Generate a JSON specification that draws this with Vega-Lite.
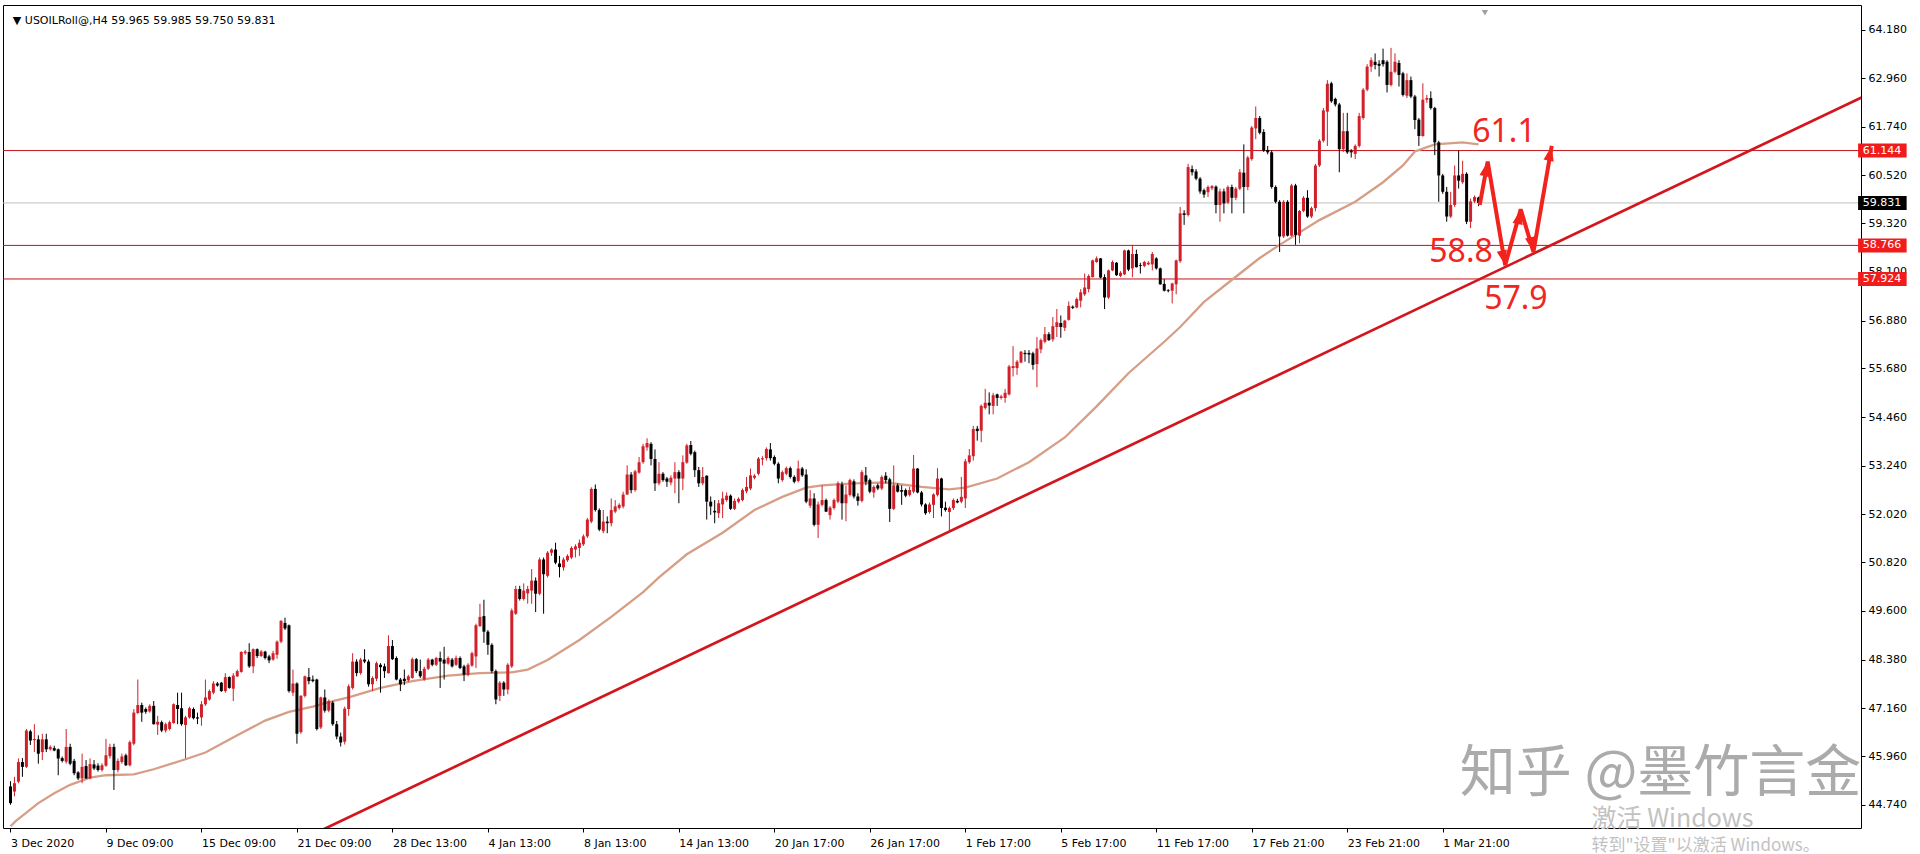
{
"$schema":"https://vega.github.io/schema/vega-lite/v6.json",
"width":1858,"height":823,
"autosize":{"type":"none"},
"padding":{"left":3,"top":5,"right":59,"bottom":26},
"background":"#ffffff",
"config":{"view":{"stroke":"#000000","strokeWidth":1,"fill":"#ffffff"},"font":"DejaVu Sans"},
"datasets":{
"candles":[
{"i":0,"o":45.20,"h":45.33,"l":44.74,"c":44.78},{"i":1,"o":45.07,"h":45.44,"l":44.95,"c":45.28},{"i":2,"o":45.32,"h":45.90,"l":45.28,"c":45.81},{"i":3,"o":45.81,"h":45.91,"l":45.44,"c":45.69},{"i":4,"o":45.69,"h":46.64,"l":45.66,"c":46.60},{"i":5,"o":46.58,"h":46.62,"l":46.24,"c":46.35},{"i":6,"o":46.36,"h":46.76,"l":46.06,"c":46.39},{"i":7,"o":46.38,"h":46.48,"l":45.77,"c":46.02},{"i":8,"o":46.06,"h":46.52,"l":45.86,"c":46.38},{"i":9,"o":46.38,"h":46.52,"l":46.06,"c":46.13},
{"i":10,"o":46.13,"h":46.23,"l":46.10,"c":46.19},{"i":11,"o":46.16,"h":46.22,"l":46.08,"c":46.10},{"i":12,"o":46.13,"h":46.15,"l":45.48,"c":45.90},{"i":13,"o":45.91,"h":45.95,"l":45.80,"c":45.84},{"i":14,"o":45.82,"h":46.64,"l":45.77,"c":46.19},{"i":15,"o":46.19,"h":46.27,"l":45.73,"c":45.77},{"i":16,"o":45.84,"h":45.89,"l":45.48,"c":45.53},{"i":17,"o":45.55,"h":45.58,"l":45.36,"c":45.40},{"i":18,"o":45.40,"h":46.02,"l":45.28,"c":45.69},{"i":19,"o":45.71,"h":45.86,"l":45.39,"c":45.40},
{"i":20,"o":45.40,"h":45.90,"l":45.38,"c":45.76},{"i":21,"o":45.75,"h":45.86,"l":45.61,"c":45.65},{"i":22,"o":45.72,"h":45.78,"l":45.57,"c":45.61},{"i":23,"o":45.61,"h":45.78,"l":45.57,"c":45.73},{"i":24,"o":45.72,"h":46.39,"l":45.69,"c":45.98},{"i":25,"o":45.96,"h":46.27,"l":45.90,"c":46.19},{"i":26,"o":46.19,"h":46.27,"l":45.11,"c":45.61},{"i":27,"o":45.61,"h":45.90,"l":45.55,"c":45.84},{"i":28,"o":45.81,"h":46.02,"l":45.77,"c":45.95},{"i":29,"o":45.98,"h":46.02,"l":45.71,"c":45.73},
{"i":30,"o":45.73,"h":46.35,"l":45.70,"c":46.31},{"i":31,"o":46.27,"h":47.14,"l":46.23,"c":47.05},{"i":32,"o":47.04,"h":47.88,"l":47.01,"c":47.24},{"i":33,"o":47.24,"h":47.30,"l":46.82,"c":47.05},{"i":34,"o":47.14,"h":47.18,"l":47.02,"c":47.07},{"i":35,"o":47.08,"h":47.26,"l":47.05,"c":47.22},{"i":36,"o":47.22,"h":47.34,"l":46.75,"c":46.76},{"i":37,"o":46.75,"h":46.97,"l":46.49,"c":46.82},{"i":38,"o":46.81,"h":46.85,"l":46.56,"c":46.60},{"i":39,"o":46.60,"h":46.80,"l":46.55,"c":46.76},
{"i":40,"o":46.64,"h":46.85,"l":46.60,"c":46.81},{"i":41,"o":46.79,"h":47.28,"l":46.77,"c":47.26},{"i":42,"o":47.24,"h":47.55,"l":46.76,"c":47.14},{"i":43,"o":47.16,"h":47.55,"l":46.72,"c":46.76},{"i":44,"o":46.74,"h":46.97,"l":45.90,"c":46.93},{"i":45,"o":46.93,"h":47.20,"l":46.90,"c":47.16},{"i":46,"o":47.14,"h":47.18,"l":46.88,"c":46.91},{"i":47,"o":46.93,"h":47.05,"l":46.76,"c":46.90},{"i":48,"o":46.93,"h":47.34,"l":46.72,"c":47.26},{"i":49,"o":47.26,"h":47.88,"l":47.22,"c":47.43},
{"i":50,"o":47.38,"h":47.63,"l":47.35,"c":47.59},{"i":51,"o":47.55,"h":47.84,"l":47.51,"c":47.78},{"i":52,"o":47.78,"h":47.82,"l":47.70,"c":47.73},{"i":53,"o":47.80,"h":47.82,"l":47.57,"c":47.59},{"i":54,"o":47.59,"h":48.04,"l":47.55,"c":47.94},{"i":55,"o":47.94,"h":47.96,"l":47.65,"c":47.67},{"i":56,"o":47.65,"h":48.04,"l":47.34,"c":47.98},{"i":57,"o":47.96,"h":48.13,"l":47.94,"c":48.09},{"i":58,"o":48.07,"h":48.59,"l":48.05,"c":48.57},{"i":59,"o":48.54,"h":48.62,"l":48.50,"c":48.58},
{"i":60,"o":48.57,"h":48.79,"l":48.17,"c":48.21},{"i":61,"o":48.21,"h":48.66,"l":48.04,"c":48.64},{"i":62,"o":48.64,"h":48.66,"l":48.42,"c":48.47},{"i":63,"o":48.47,"h":48.62,"l":48.44,"c":48.58},{"i":64,"o":48.58,"h":48.60,"l":48.38,"c":48.42},{"i":65,"o":48.46,"h":48.50,"l":48.29,"c":48.36},{"i":66,"o":48.38,"h":48.60,"l":48.35,"c":48.54},{"i":67,"o":48.50,"h":48.86,"l":48.40,"c":48.83},{"i":68,"o":48.83,"h":49.37,"l":48.79,"c":49.35},{"i":69,"o":49.30,"h":49.43,"l":49.12,"c":49.16},
{"i":70,"o":49.24,"h":49.26,"l":47.55,"c":47.59},{"i":71,"o":47.55,"h":48.13,"l":47.47,"c":47.78},{"i":72,"o":47.78,"h":47.81,"l":46.27,"c":46.52},{"i":73,"o":46.56,"h":47.49,"l":46.52,"c":47.47},{"i":74,"o":47.47,"h":47.98,"l":47.43,"c":47.96},{"i":75,"o":47.94,"h":48.17,"l":47.76,"c":47.84},{"i":76,"o":47.88,"h":47.98,"l":47.81,"c":47.84},{"i":77,"o":47.88,"h":47.90,"l":46.60,"c":46.64},{"i":78,"o":46.68,"h":47.45,"l":46.64,"c":47.43},{"i":79,"o":47.43,"h":47.63,"l":47.05,"c":47.10},
{"i":80,"o":47.10,"h":47.38,"l":47.06,"c":47.34},{"i":81,"o":47.30,"h":47.34,"l":46.72,"c":46.76},{"i":82,"o":46.76,"h":46.84,"l":46.38,"c":46.45},{"i":83,"o":46.45,"h":46.55,"l":46.20,"c":46.30},{"i":84,"o":46.32,"h":47.20,"l":46.25,"c":47.15},{"i":85,"o":47.14,"h":47.76,"l":46.97,"c":47.71},{"i":86,"o":47.67,"h":48.54,"l":47.63,"c":48.33},{"i":87,"o":48.33,"h":48.39,"l":47.96,"c":48.04},{"i":88,"o":48.04,"h":48.42,"l":48.00,"c":48.38},{"i":89,"o":48.38,"h":48.64,"l":48.29,"c":48.33},
{"i":90,"o":48.33,"h":48.38,"l":47.70,"c":47.76},{"i":91,"o":47.76,"h":47.96,"l":47.59,"c":47.92},{"i":92,"o":47.90,"h":48.33,"l":47.84,"c":48.29},{"i":93,"o":48.25,"h":48.29,"l":47.55,"c":48.19},{"i":94,"o":48.21,"h":48.28,"l":47.92,"c":48.09},{"i":95,"o":48.04,"h":48.99,"l":48.03,"c":48.72},{"i":96,"o":48.72,"h":48.87,"l":48.37,"c":48.39},{"i":97,"o":48.42,"h":48.46,"l":47.86,"c":47.88},{"i":98,"o":47.88,"h":47.92,"l":47.59,"c":47.76},{"i":99,"o":47.90,"h":48.13,"l":47.74,"c":47.84},
{"i":100,"o":47.86,"h":48.00,"l":47.82,"c":47.96},{"i":101,"o":47.92,"h":48.43,"l":47.90,"c":48.39},{"i":102,"o":48.39,"h":48.42,"l":48.04,"c":48.09},{"i":103,"o":48.09,"h":48.38,"l":47.92,"c":47.96},{"i":104,"o":47.88,"h":48.20,"l":47.85,"c":48.15},{"i":105,"o":48.15,"h":48.42,"l":48.12,"c":48.38},{"i":106,"o":48.38,"h":48.40,"l":48.21,"c":48.25},{"i":107,"o":48.25,"h":48.45,"l":48.22,"c":48.42},{"i":108,"o":48.42,"h":48.58,"l":47.67,"c":48.33},{"i":109,"o":48.38,"h":48.70,"l":47.88,"c":48.28},
{"i":110,"o":48.28,"h":48.46,"l":48.25,"c":48.42},{"i":111,"o":48.38,"h":48.42,"l":48.18,"c":48.21},{"i":112,"o":48.25,"h":48.48,"l":48.22,"c":48.42},{"i":113,"o":48.42,"h":48.46,"l":48.14,"c":48.17},{"i":114,"o":48.21,"h":48.25,"l":47.84,"c":48.00},{"i":115,"o":48.00,"h":48.29,"l":47.96,"c":48.25},{"i":116,"o":48.23,"h":48.58,"l":48.20,"c":48.54},{"i":117,"o":48.46,"h":49.28,"l":48.17,"c":49.24},{"i":118,"o":49.22,"h":49.78,"l":49.20,"c":49.45},{"i":119,"o":49.47,"h":49.88,"l":48.80,"c":49.08},
{"i":120,"o":49.08,"h":49.12,"l":48.50,"c":48.75},{"i":121,"o":48.75,"h":48.79,"l":48.04,"c":48.09},{"i":122,"o":48.09,"h":48.13,"l":47.26,"c":47.38},{"i":123,"o":47.47,"h":47.84,"l":47.34,"c":47.80},{"i":124,"o":47.80,"h":47.84,"l":47.47,"c":47.63},{"i":125,"o":47.63,"h":48.29,"l":47.51,"c":48.25},{"i":126,"o":48.21,"h":49.66,"l":48.17,"c":49.61},{"i":127,"o":49.53,"h":50.23,"l":49.50,"c":50.15},{"i":128,"o":50.15,"h":50.23,"l":49.86,"c":49.90},{"i":129,"o":49.90,"h":50.29,"l":49.86,"c":50.11},
{"i":130,"o":50.04,"h":50.23,"l":49.78,"c":50.15},{"i":131,"o":50.11,"h":50.65,"l":49.78,"c":50.36},{"i":132,"o":50.36,"h":50.44,"l":49.57,"c":50.03},{"i":133,"o":50.03,"h":50.94,"l":49.99,"c":50.89},{"i":134,"o":50.89,"h":50.94,"l":49.53,"c":50.52},{"i":135,"o":50.48,"h":51.10,"l":50.44,"c":51.06},{"i":136,"o":51.06,"h":51.17,"l":50.98,"c":51.14},{"i":137,"o":51.14,"h":51.31,"l":50.77,"c":50.81},{"i":138,"o":50.79,"h":50.98,"l":50.44,"c":50.70},{"i":139,"o":50.69,"h":50.94,"l":50.61,"c":50.89},
{"i":140,"o":50.87,"h":51.02,"l":50.83,"c":50.98},{"i":141,"o":50.94,"h":51.22,"l":50.90,"c":51.18},{"i":142,"o":51.14,"h":51.27,"l":50.94,"c":51.22},{"i":143,"o":51.18,"h":51.39,"l":50.98,"c":51.31},{"i":144,"o":51.27,"h":51.52,"l":51.23,"c":51.47},{"i":145,"o":51.47,"h":51.93,"l":51.43,"c":51.89},{"i":146,"o":51.84,"h":52.70,"l":51.80,"c":52.66},{"i":147,"o":52.66,"h":52.77,"l":52.09,"c":52.13},{"i":148,"o":52.13,"h":52.17,"l":51.60,"c":51.64},{"i":149,"o":51.60,"h":52.13,"l":51.55,"c":51.84},
{"i":150,"o":51.84,"h":51.97,"l":51.55,"c":51.80},{"i":151,"o":51.80,"h":52.42,"l":51.72,"c":52.13},{"i":152,"o":52.09,"h":52.38,"l":52.05,"c":52.22},{"i":153,"o":52.18,"h":52.30,"l":52.14,"c":52.26},{"i":154,"o":52.22,"h":52.59,"l":52.17,"c":52.52},{"i":155,"o":52.52,"h":53.25,"l":52.51,"c":53.02},{"i":156,"o":53.02,"h":53.08,"l":52.55,"c":52.63},{"i":157,"o":52.63,"h":53.14,"l":52.59,"c":53.10},{"i":158,"o":53.07,"h":53.46,"l":53.04,"c":53.33},{"i":159,"o":53.33,"h":53.79,"l":53.29,"c":53.73},
{"i":160,"o":53.70,"h":53.93,"l":53.62,"c":53.81},{"i":161,"o":53.79,"h":53.83,"l":53.25,"c":53.41},{"i":162,"o":53.41,"h":53.65,"l":52.61,"c":52.80},{"i":163,"o":52.80,"h":53.33,"l":52.75,"c":53.04},{"i":164,"o":53.04,"h":53.08,"l":52.84,"c":52.88},{"i":165,"o":52.92,"h":52.96,"l":52.71,"c":52.84},{"i":166,"o":52.82,"h":53.00,"l":52.75,"c":52.94},{"i":167,"o":52.92,"h":53.33,"l":52.55,"c":53.08},{"i":168,"o":53.08,"h":53.13,"l":52.30,"c":52.92},{"i":169,"o":52.92,"h":53.50,"l":52.63,"c":53.33},
{"i":170,"o":53.32,"h":53.79,"l":53.29,"c":53.75},{"i":171,"o":53.76,"h":53.86,"l":53.50,"c":53.54},{"i":172,"o":53.58,"h":53.62,"l":52.96,"c":53.13},{"i":173,"o":53.13,"h":53.21,"l":52.71,"c":52.80},{"i":174,"o":52.80,"h":53.21,"l":52.75,"c":52.96},{"i":175,"o":52.99,"h":53.00,"l":51.89,"c":52.34},{"i":176,"o":52.34,"h":52.47,"l":52.01,"c":52.22},{"i":177,"o":52.11,"h":52.38,"l":51.80,"c":52.07},{"i":178,"o":52.05,"h":52.38,"l":51.93,"c":52.30},{"i":179,"o":52.27,"h":52.59,"l":51.93,"c":52.42},
{"i":180,"o":52.38,"h":52.57,"l":52.34,"c":52.49},{"i":181,"o":52.49,"h":52.52,"l":52.13,"c":52.16},{"i":182,"o":52.16,"h":52.42,"l":52.13,"c":52.36},{"i":183,"o":52.34,"h":52.45,"l":52.30,"c":52.41},{"i":184,"o":52.38,"h":52.67,"l":52.35,"c":52.63},{"i":185,"o":52.60,"h":52.96,"l":52.55,"c":52.71},{"i":186,"o":52.67,"h":53.17,"l":52.63,"c":53.00},{"i":187,"o":52.94,"h":53.03,"l":52.90,"c":52.99},{"i":188,"o":53.04,"h":53.46,"l":53.00,"c":53.42},{"i":189,"o":53.40,"h":53.48,"l":53.25,"c":53.43},
{"i":190,"o":53.43,"h":53.70,"l":53.37,"c":53.66},{"i":191,"o":53.65,"h":53.81,"l":53.37,"c":53.43},{"i":192,"o":53.46,"h":53.50,"l":53.25,"c":53.29},{"i":193,"o":53.29,"h":53.33,"l":52.80,"c":52.92},{"i":194,"o":52.88,"h":53.12,"l":52.84,"c":53.08},{"i":195,"o":53.04,"h":53.22,"l":53.00,"c":53.18},{"i":196,"o":53.18,"h":53.22,"l":52.92,"c":52.96},{"i":197,"o":52.96,"h":53.00,"l":52.80,"c":52.84},{"i":198,"o":52.86,"h":53.37,"l":52.82,"c":53.17},{"i":199,"o":53.17,"h":53.21,"l":52.96,"c":53.00},
{"i":200,"o":53.02,"h":53.15,"l":52.30,"c":52.34},{"i":201,"o":52.24,"h":52.63,"l":52.18,"c":52.42},{"i":202,"o":52.42,"h":52.55,"l":51.72,"c":51.76},{"i":203,"o":51.76,"h":52.34,"l":51.43,"c":52.27},{"i":204,"o":52.26,"h":52.75,"l":52.22,"c":52.38},{"i":205,"o":52.38,"h":52.42,"l":52.08,"c":52.09},{"i":206,"o":52.00,"h":52.23,"l":51.89,"c":52.19},{"i":207,"o":52.18,"h":52.42,"l":52.14,"c":52.38},{"i":208,"o":52.34,"h":52.85,"l":52.30,"c":52.80},{"i":209,"o":52.77,"h":52.84,"l":51.89,"c":52.30},
{"i":210,"o":52.30,"h":52.75,"l":51.85,"c":52.52},{"i":211,"o":52.51,"h":52.92,"l":52.47,"c":52.88},{"i":212,"o":52.85,"h":52.90,"l":52.42,"c":52.47},{"i":213,"o":52.47,"h":52.55,"l":52.24,"c":52.36},{"i":214,"o":52.36,"h":53.13,"l":52.32,"c":53.08},{"i":215,"o":53.00,"h":53.21,"l":52.75,"c":52.84},{"i":216,"o":52.88,"h":52.92,"l":52.55,"c":52.59},{"i":217,"o":52.57,"h":52.75,"l":52.44,"c":52.71},{"i":218,"o":52.75,"h":52.79,"l":52.63,"c":52.67},{"i":219,"o":52.67,"h":53.00,"l":52.63,"c":52.96},
{"i":220,"o":52.99,"h":53.08,"l":52.80,"c":52.88},{"i":221,"o":52.90,"h":52.94,"l":51.83,"c":52.16},{"i":222,"o":52.16,"h":53.25,"l":52.13,"c":52.75},{"i":223,"o":52.75,"h":52.80,"l":52.57,"c":52.59},{"i":224,"o":52.63,"h":52.75,"l":52.26,"c":52.59},{"i":225,"o":52.63,"h":52.67,"l":52.45,"c":52.49},{"i":226,"o":52.51,"h":52.71,"l":52.47,"c":52.63},{"i":227,"o":52.59,"h":53.51,"l":52.55,"c":53.17},{"i":228,"o":53.17,"h":53.18,"l":52.55,"c":52.57},{"i":229,"o":52.57,"h":52.61,"l":52.22,"c":52.27},
{"i":230,"o":52.27,"h":52.30,"l":52.01,"c":52.05},{"i":231,"o":52.08,"h":52.32,"l":52.04,"c":52.27},{"i":232,"o":52.26,"h":52.55,"l":51.93,"c":52.52},{"i":233,"o":52.51,"h":53.18,"l":52.47,"c":52.92},{"i":234,"o":52.92,"h":52.94,"l":51.97,"c":52.18},{"i":235,"o":52.19,"h":52.34,"l":52.09,"c":52.13},{"i":236,"o":52.08,"h":52.22,"l":51.60,"c":52.18},{"i":237,"o":52.18,"h":52.42,"l":52.13,"c":52.38},{"i":238,"o":52.36,"h":52.41,"l":52.30,"c":52.32},{"i":239,"o":52.34,"h":52.96,"l":52.30,"c":52.46},
{"i":240,"o":52.42,"h":53.41,"l":52.18,"c":53.35},{"i":241,"o":53.33,"h":53.66,"l":53.29,"c":53.50},{"i":242,"o":53.48,"h":54.24,"l":53.37,"c":54.16},{"i":243,"o":54.17,"h":54.24,"l":53.87,"c":54.11},{"i":244,"o":54.12,"h":54.78,"l":53.83,"c":54.74},{"i":245,"o":54.69,"h":55.17,"l":54.65,"c":54.82},{"i":246,"o":54.82,"h":55.08,"l":54.53,"c":54.75},{"i":247,"o":54.74,"h":55.07,"l":54.53,"c":55.01},{"i":248,"o":55.03,"h":55.05,"l":54.74,"c":54.94},{"i":249,"o":54.94,"h":55.02,"l":54.90,"c":54.98},
{"i":250,"o":54.94,"h":55.17,"l":54.82,"c":55.07},{"i":251,"o":55.03,"h":55.77,"l":55.00,"c":55.73},{"i":252,"o":55.69,"h":56.24,"l":55.48,"c":55.74},{"i":253,"o":55.69,"h":55.89,"l":55.52,"c":55.85},{"i":254,"o":55.83,"h":56.12,"l":55.81,"c":56.10},{"i":255,"o":56.07,"h":56.14,"l":55.85,"c":56.04},{"i":256,"o":56.07,"h":56.14,"l":55.81,"c":56.03},{"i":257,"o":56.06,"h":56.10,"l":55.65,"c":55.77},{"i":258,"o":55.79,"h":56.47,"l":55.21,"c":56.18},{"i":259,"o":56.16,"h":56.43,"l":56.06,"c":56.39},
{"i":260,"o":56.35,"h":56.72,"l":56.31,"c":56.54},{"i":261,"o":56.54,"h":56.59,"l":56.37,"c":56.39},{"i":262,"o":56.41,"h":56.97,"l":56.35,"c":56.74},{"i":263,"o":56.72,"h":57.17,"l":56.47,"c":56.84},{"i":264,"o":56.82,"h":57.01,"l":56.45,"c":56.72},{"i":265,"o":56.70,"h":56.90,"l":56.62,"c":56.88},{"i":266,"o":56.90,"h":57.36,"l":56.88,"c":57.25},{"i":267,"o":57.23,"h":57.26,"l":57.17,"c":57.20},{"i":268,"o":57.21,"h":57.46,"l":57.19,"c":57.42},{"i":269,"o":57.38,"h":57.67,"l":57.21,"c":57.59},
{"i":270,"o":57.54,"h":58.06,"l":57.50,"c":57.71},{"i":271,"o":57.67,"h":58.04,"l":57.59,"c":58.00},{"i":272,"o":57.97,"h":58.41,"l":57.96,"c":58.39},{"i":273,"o":58.35,"h":58.49,"l":58.33,"c":58.44},{"i":274,"o":58.44,"h":58.45,"l":57.94,"c":57.96},{"i":275,"o":57.97,"h":58.04,"l":57.17,"c":57.46},{"i":276,"o":57.46,"h":58.16,"l":57.42,"c":58.14},{"i":277,"o":58.14,"h":58.39,"l":58.12,"c":58.35},{"i":278,"o":58.33,"h":58.35,"l":58.00,"c":58.02},{"i":279,"o":58.00,"h":58.12,"l":57.97,"c":58.08},
{"i":280,"o":58.04,"h":58.66,"l":58.02,"c":58.64},{"i":281,"o":58.64,"h":58.66,"l":58.12,"c":58.16},{"i":282,"o":58.19,"h":58.78,"l":57.97,"c":58.55},{"i":283,"o":58.55,"h":58.66,"l":58.21,"c":58.22},{"i":284,"o":58.27,"h":58.33,"l":58.06,"c":58.25},{"i":285,"o":58.25,"h":58.38,"l":58.22,"c":58.35},{"i":286,"o":58.29,"h":58.37,"l":58.27,"c":58.33},{"i":287,"o":58.29,"h":58.60,"l":58.14,"c":58.55},{"i":288,"o":58.44,"h":58.47,"l":58.16,"c":58.19},{"i":289,"o":58.19,"h":58.21,"l":57.78,"c":57.79},
{"i":290,"o":57.80,"h":57.92,"l":57.61,"c":57.63},{"i":291,"o":57.64,"h":57.67,"l":57.59,"c":57.62},{"i":292,"o":57.63,"h":57.83,"l":57.31,"c":57.81},{"i":293,"o":57.79,"h":58.41,"l":57.54,"c":58.39},{"i":294,"o":58.37,"h":59.73,"l":58.33,"c":59.57},{"i":295,"o":59.57,"h":59.65,"l":59.28,"c":59.53},{"i":296,"o":59.53,"h":60.81,"l":59.49,"c":60.73},{"i":297,"o":60.68,"h":60.77,"l":60.52,"c":60.60},{"i":298,"o":60.62,"h":60.68,"l":60.40,"c":60.44},{"i":299,"o":60.44,"h":60.48,"l":60.06,"c":60.12},
{"i":300,"o":60.15,"h":60.19,"l":59.96,"c":60.04},{"i":301,"o":60.10,"h":60.27,"l":59.98,"c":60.23},{"i":302,"o":60.20,"h":60.28,"l":60.15,"c":60.25},{"i":303,"o":60.24,"h":60.27,"l":59.57,"c":59.78},{"i":304,"o":59.78,"h":60.19,"l":59.36,"c":60.12},{"i":305,"o":60.12,"h":60.19,"l":59.57,"c":59.82},{"i":306,"o":59.84,"h":60.27,"l":59.80,"c":60.23},{"i":307,"o":60.23,"h":60.29,"l":59.57,"c":59.96},{"i":308,"o":59.96,"h":60.23,"l":59.90,"c":60.19},{"i":309,"o":60.19,"h":60.68,"l":60.15,"c":60.60},
{"i":310,"o":60.59,"h":61.30,"l":59.57,"c":60.23},{"i":311,"o":60.23,"h":61.01,"l":60.15,"c":60.97},{"i":312,"o":60.93,"h":61.76,"l":60.89,"c":61.72},{"i":313,"o":61.70,"h":62.25,"l":61.43,"c":61.96},{"i":314,"o":61.96,"h":62.01,"l":61.55,"c":61.59},{"i":315,"o":61.61,"h":61.68,"l":61.11,"c":61.14},{"i":316,"o":61.16,"h":61.26,"l":61.05,"c":61.10},{"i":317,"o":61.10,"h":61.15,"l":60.19,"c":60.23},{"i":318,"o":60.23,"h":60.27,"l":59.82,"c":59.86},{"i":319,"o":59.86,"h":59.90,"l":58.60,"c":58.99},
{"i":320,"o":58.99,"h":59.90,"l":58.95,"c":59.86},{"i":321,"o":59.86,"h":59.90,"l":58.99,"c":59.01},{"i":322,"o":59.01,"h":60.31,"l":58.99,"c":60.27},{"i":323,"o":60.27,"h":60.31,"l":58.78,"c":59.03},{"i":324,"o":59.01,"h":59.65,"l":58.82,"c":59.63},{"i":325,"o":59.63,"h":60.00,"l":59.60,"c":59.96},{"i":326,"o":59.96,"h":60.15,"l":59.46,"c":59.49},{"i":327,"o":59.49,"h":59.74,"l":59.45,"c":59.70},{"i":328,"o":59.70,"h":60.81,"l":59.62,"c":60.77},{"i":329,"o":60.77,"h":61.43,"l":60.73,"c":61.39},
{"i":330,"o":61.39,"h":62.21,"l":61.35,"c":62.15},{"i":331,"o":62.12,"h":62.91,"l":61.26,"c":62.82},{"i":332,"o":62.83,"h":62.87,"l":62.34,"c":62.38},{"i":333,"o":62.44,"h":62.47,"l":62.25,"c":62.30},{"i":334,"o":62.30,"h":62.34,"l":60.60,"c":61.18},{"i":335,"o":61.18,"h":62.09,"l":61.11,"c":61.63},{"i":336,"o":61.63,"h":62.09,"l":61.06,"c":61.10},{"i":337,"o":61.14,"h":61.18,"l":60.97,"c":61.10},{"i":338,"o":61.06,"h":61.30,"l":60.93,"c":61.26},{"i":339,"o":61.26,"h":62.09,"l":61.22,"c":62.01},
{"i":340,"o":61.96,"h":62.71,"l":61.92,"c":62.67},{"i":341,"o":62.67,"h":63.31,"l":62.63,"c":63.25},{"i":342,"o":63.25,"h":63.48,"l":63.12,"c":63.41},{"i":343,"o":63.37,"h":63.58,"l":63.18,"c":63.29},{"i":344,"o":63.32,"h":63.41,"l":63.00,"c":63.27},{"i":345,"o":63.41,"h":63.70,"l":63.25,"c":63.31},{"i":346,"o":63.37,"h":63.41,"l":62.60,"c":62.79},{"i":347,"o":62.79,"h":63.72,"l":62.75,"c":63.12},{"i":348,"o":63.12,"h":63.58,"l":63.08,"c":63.37},{"i":349,"o":63.34,"h":63.41,"l":62.75,"c":63.04},
{"i":350,"o":63.08,"h":63.12,"l":62.50,"c":62.54},{"i":351,"o":62.52,"h":63.08,"l":62.46,"c":62.91},{"i":352,"o":62.91,"h":63.00,"l":62.46,"c":62.50},{"i":353,"o":62.50,"h":62.54,"l":61.68,"c":61.91},{"i":354,"o":61.92,"h":61.96,"l":61.26,"c":61.51},{"i":355,"o":61.51,"h":62.83,"l":61.49,"c":62.42},{"i":356,"o":62.42,"h":62.54,"l":62.34,"c":62.46},{"i":357,"o":62.46,"h":62.63,"l":62.17,"c":62.21},{"i":358,"o":62.21,"h":62.24,"l":61.03,"c":61.35},{"i":359,"o":61.35,"h":61.39,"l":59.86,"c":60.52},
{"i":360,"o":60.52,"h":60.56,"l":60.06,"c":60.11},{"i":361,"o":60.11,"h":60.23,"l":59.36,"c":59.49},{"i":362,"o":59.49,"h":60.11,"l":59.45,"c":59.78},{"i":363,"o":59.78,"h":60.77,"l":59.73,"c":60.52},{"i":364,"o":60.52,"h":61.14,"l":60.19,"c":60.39},{"i":365,"o":60.35,"h":60.89,"l":60.31,"c":60.56},{"i":366,"o":60.56,"h":60.60,"l":59.30,"c":59.36},{"i":367,"o":59.36,"h":59.94,"l":59.20,"c":59.87},{"i":368,"o":59.87,"h":60.02,"l":59.83,"c":59.98},{"i":369,"o":59.965,"h":59.985,"l":59.75,"c":59.831}
],
"ma":[
{"i":0,"p":44.20},{"i":1.3,"p":44.33},{"i":7,"p":44.78},{"i":11,"p":45.03},{"i":15,"p":45.24},{"i":20,"p":45.42},{"i":24,"p":45.48},{"i":31,"p":45.50},{"i":36,"p":45.63},{"i":44,"p":45.88},{"i":49,"p":46.05},{"i":57,"p":46.48},{"i":64,"p":46.85},{"i":70,"p":47.07},{"i":76,"p":47.20},{"i":81,"p":47.34},{"i":85,"p":47.43},{"i":93,"p":47.67},{"i":101,"p":47.84},{"i":110,"p":47.98},{"i":118,"p":48.04},{"i":126,"p":48.06},{"i":130,"p":48.13},{"i":135,"p":48.37},{"i":143,"p":48.87},{"i":151,"p":49.45},{"i":159,"p":50.07},{"i":163,"p":50.44},{"i":170,"p":51.02},{"i":179,"p":51.56},{"i":187,"p":52.13},{"i":194,"p":52.46},{"i":200,"p":52.69},{"i":204,"p":52.75},{"i":212,"p":52.80},{"i":220,"p":52.82},{"i":229,"p":52.71},{"i":236,"p":52.65},{"i":240,"p":52.69},{"i":248,"p":52.92},{"i":256,"p":53.33},{"i":265,"p":53.95},{"i":273,"p":54.73},{"i":281,"p":55.56},{"i":290,"p":56.35},{"i":294,"p":56.72},{"i":300,"p":57.35},{"i":308,"p":57.98},{"i":314,"p":58.45},{"i":319,"p":58.78},{"i":329,"p":59.40},{"i":338,"p":59.86},{"i":345,"p":60.35},{"i":350,"p":60.77},{"i":353,"p":61.12},{"i":358,"p":61.30},{"i":365,"p":61.35},{"i":369,"p":61.30}
],
"levels":[{"p":61.144,"kind":"level"},{"p":59.831,"kind":"last"},{"p":58.766,"kind":"level"},{"p":57.924,"kind":"level"}],
"trend":[{"i":75,"p":43.95},{"i":470,"p":62.70}],
"arrows":[{"seq":0,"i":369.3,"p":59.78,"dir":"start"},{"seq":1,"i":371.3,"p":60.87,"dir":"up"},{"seq":2,"i":375.7,"p":58.27,"dir":"down"},{"seq":3,"i":379.6,"p":59.67,"dir":"up"},{"seq":4,"i":382.8,"p":58.60,"dir":"down"},{"seq":5,"i":387.4,"p":61.26,"dir":"up"}],
"notes":[{"t":"61.1","i":375.4,"p":61.62},{"t":"58.8","i":364.6,"p":58.61},{"t":"57.9","i":378.4,"p":57.42}]
},
"layer":[
{"data":{"name":"levels"},"mark":{"type":"rule","strokeWidth":1,"clip":true},
 "encoding":{"y":{"field":"p","type":"quantitative","scale":{"domain":[44.282,64.669],"nice":false,"zero":false},
  "axis":{"orient":"right","values":[64.18,62.96,61.74,60.52,59.32,58.1,56.88,55.68,54.46,53.24,52.02,50.82,49.6,48.38,47.16,45.96,44.74],"format":".3f","title":null,"grid":false,"domain":false,"ticks":true,"tickSize":4,"tickColor":"#000000","tickWidth":1,"labelPadding":3,"labelFont":"DejaVu Sans","labelFontSize":11,"labelColor":"#000000","labelOverlap":false,"labelFlush":false}},
  "color":{"condition":{"test":"datum.kind == 'last'","value":"#c0c0c0"},"value":"#c0141c"}}},
{"data":{"name":"ma"},"mark":{"type":"line","strokeWidth":2.3,"color":"#d69e86","clip":true},
 "encoding":{"x":{"field":"i","type":"quantitative","scale":{"domain":[-0.625,463.875],"nice":false,"zero":false},
  "axis":{"orient":"bottom","values":[0,24,48,72,96,120,144,168,192,216,240,264,288,312,336,360],"labelExpr":"['3 Dec 2020','9 Dec 09:00','15 Dec 09:00','21 Dec 09:00','28 Dec 13:00','4 Jan 13:00','8 Jan 13:00','14 Jan 13:00','20 Jan 17:00','26 Jan 17:00','1 Feb 17:00','5 Feb 17:00','11 Feb 17:00','17 Feb 21:00','23 Feb 21:00','1 Mar 21:00'][round(datum.value/24)]","title":null,"grid":false,"domain":false,"ticks":true,"tickSize":4,"tickColor":"#000000","tickWidth":1,"labelFont":"DejaVu Sans","labelFontSize":11,"labelColor":"#000000","labelAlign":"left","labelBaseline":"middle","labelPadding":11,"labelFlush":false,"labelOverlap":false}},
  "y":{"field":"p","type":"quantitative"}}},
{"data":{"name":"candles"},"mark":{"type":"rule","strokeWidth":1,"clip":true},
 "encoding":{"x":{"field":"i","type":"quantitative"},"y":{"field":"l","type":"quantitative"},"y2":{"field":"h"},
  "color":{"condition":{"test":"datum.c >= datum.o","value":"#d0202a"},"value":"#000000"}}},
{"data":{"name":"candles"},"mark":{"type":"bar","orient":"vertical","size":3,"clip":true},
 "encoding":{"x":{"field":"i","type":"quantitative"},"y":{"field":"o","type":"quantitative"},"y2":{"field":"c"},
  "color":{"condition":{"test":"datum.c >= datum.o","value":"#d0202a"},"value":"#000000"}}},
{"data":{"name":"trend"},"mark":{"type":"line","strokeWidth":2.7,"color":"#d3151d","clip":true},
 "encoding":{"x":{"field":"i","type":"quantitative"},"y":{"field":"p","type":"quantitative"}}},
{"data":{"name":"arrows"},"mark":{"type":"line","strokeWidth":4,"color":"#f2221c","strokeJoin":"bevel","strokeCap":"butt"},
 "encoding":{"x":{"field":"i","type":"quantitative"},"y":{"field":"p","type":"quantitative"},"order":{"field":"seq"}}},
{"data":{"name":"arrows"},"transform":[{"filter":"datum.dir == 'up'"}],
 "mark":{"type":"point","shape":"M0,0L0.55,1.6L-0.55,1.6Z","size":350,"filled":true,"opacity":1,"color":"#f2221c","angle":12},
 "encoding":{"x":{"field":"i","type":"quantitative"},"y":{"field":"p","type":"quantitative"}}},
{"data":{"name":"arrows"},"transform":[{"filter":"datum.dir == 'down'"}],
 "mark":{"type":"point","shape":"M0,0L0.55,1.6L-0.55,1.6Z","size":350,"filled":true,"opacity":1,"color":"#f2221c","angle":167},
 "encoding":{"x":{"field":"i","type":"quantitative"},"y":{"field":"p","type":"quantitative"}}},
{"data":{"name":"notes"},"mark":{"type":"text","font":"Noto Sans","fontSize":32,"color":"#f0261f","align":"center","baseline":"middle"},
 "encoding":{"x":{"field":"i","type":"quantitative"},"y":{"field":"p","type":"quantitative"},"text":{"field":"t"}}},
{"data":{"name":"levels"},"mark":{"type":"bar","orient":"horizontal","size":14,"clip":false},
 "encoding":{"x":{"datum":464.4},"x2":{"datum":476.6},"y":{"field":"p","type":"quantitative"},
  "color":{"condition":{"test":"datum.kind == 'last'","value":"#000000"},"value":"#f01c1c"}}},
{"data":{"name":"levels"},"mark":{"type":"text","align":"left","baseline":"middle","font":"DejaVu Sans","fontSize":11,"color":"#ffffff","clip":false},
 "encoding":{"x":{"datum":465.6},"y":{"field":"p","type":"quantitative"},"text":{"field":"p","type":"quantitative","format":".3f"}}},
{"data":{"values":[{}]},"mark":{"type":"point","shape":"triangle-down","size":40,"filled":true,"color":"#a0a0a0","opacity":1,"clip":false},
 "encoding":{"x":{"datum":370.6},"y":{"datum":64.60}}},
{"data":{"values":[{}]},"mark":{"type":"text","font":"DejaVu Sans","fontSize":11,"color":"#000000","align":"left","baseline":"middle","clip":false},
 "encoding":{"x":{"datum":0.6},"y":{"datum":64.40},"text":{"value":"▼  USOILRoll@,H4  59.965 59.985 59.750 59.831"}}},
{"data":{"values":[{}]},"mark":{"type":"text","font":"Noto Sans CJK SC","fontSize":56,"color":"#ababab","align":"left","baseline":"middle","clip":false},
 "encoding":{"x":{"datum":364.3},"y":{"datum":45.52},"text":{"value":"知乎 @墨竹言金"}}},
{"data":{"values":[{}]},"mark":{"type":"text","font":"Noto Sans CJK SC","fontSize":25,"color":"#c2c2c2","align":"left","baseline":"middle","clip":false},
 "encoding":{"x":{"datum":397.4},"y":{"datum":44.38},"text":{"value":"激活 Windows"}}},
{"data":{"values":[{}]},"mark":{"type":"text","font":"Noto Sans CJK SC","fontSize":17,"color":"#c2c2c2","align":"left","baseline":"middle","clip":false},
 "encoding":{"x":{"datum":397.4},"y":{"datum":43.71},"text":{"value":"转到\"设置\"以激活 Windows。"}}}
]
}
